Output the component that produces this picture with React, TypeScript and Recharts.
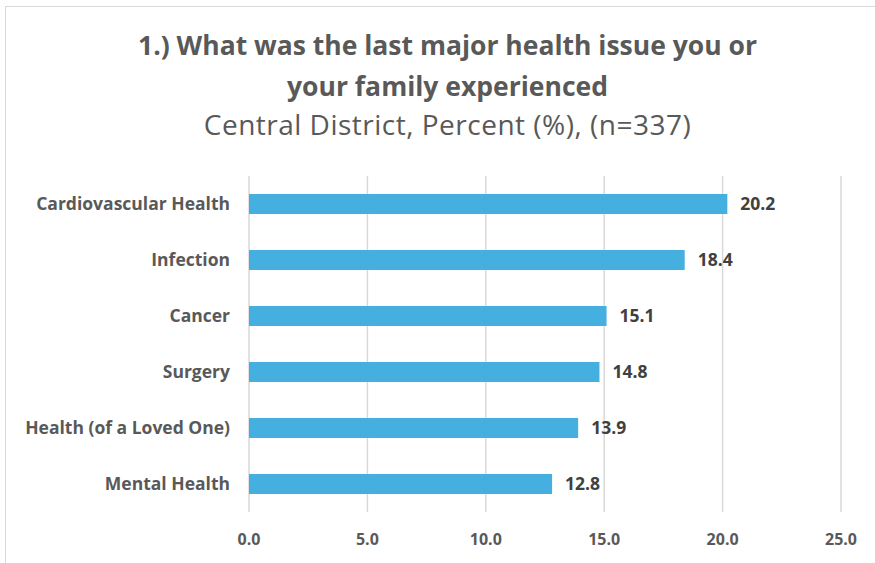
import React from 'react';
import { BarChart, Bar, XAxis, YAxis, CartesianGrid, LabelList, Cell } from 'recharts';

const categories = [
  'Cardiovascular Health',
  'Infection',
  'Cancer',
  'Surgery',
  'Health (of a Loved One)',
  'Mental Health',
];
const percents = [20.2, 18.4, 15.1, 14.8, 13.9, 12.8];
const xTicks = [0, 5, 10, 15, 20, 25];

const data = categories.map((name, i) => ({ name, value: percents[i] }));

const FONT = "'Open Sans', Lato, sans-serif";
const BAR_COLOR = '#45AFE0';

const titleLine: React.CSSProperties = {
  position: 'absolute',
  left: 0,
  width: 895,
  textAlign: 'center',
  color: '#595959',
  fontWeight: 700,
  fontSize: 26.5,
  lineHeight: '38px',
  whiteSpace: 'nowrap',
};

export default function App() {
  return (
    <div style={{ position: 'absolute', left: 0, top: 0, width: 875, height: 563, background: '#fff', overflow: 'hidden', fontFamily: FONT }}>
      {/* chart frame */}
      <div style={{ position: 'absolute', left: 5, top: 6, width: 900, height: 600, border: '1px solid #d9d9d9' }} />
      <div style={{ ...titleLine, top: 26 }}>1.) What was the last major health issue you or</div>
      <div style={{ ...titleLine, top: 67 }}>your family experienced</div>
      <div style={{ position: 'absolute', left: 0, width: 895, top: 108, textAlign: 'center', color: '#595959', fontSize: 28, lineHeight: '32px', letterSpacing: 0.5, whiteSpace: 'nowrap' }}>
        Central District, Percent (%), (n=337)
      </div>
      <div style={{ position: 'absolute', left: 0, top: 0 }}>
        <BarChart
          width={875}
          height={563}
          data={data}
          layout="vertical"
          margin={{ top: 176, right: 34, bottom: 0, left: 0 }}
        >
          <CartesianGrid horizontal={false} stroke="#d9d9d9" strokeWidth={1.5} />
          <XAxis
            type="number"
            domain={[0, 25]}
            ticks={xTicks}
            height={51}
            axisLine={false}
            tickLine={false}
            tickSize={0}
            tickMargin={22}
            tickFormatter={(v: number) => v.toFixed(1)}
            tick={{ fill: '#595959', fontSize: 16, fontWeight: 700, fontFamily: FONT }}
          />
          <YAxis
            type="category"
            dataKey="name"
            width={249}
            axisLine={false}
            tickLine={false}
            tickSize={0}
            tickMargin={19}
            tick={{ fill: '#595959', fontSize: 17.5, fontWeight: 700, fontFamily: FONT }}
          />
          <Bar dataKey="value" barSize={20} fill={BAR_COLOR} isAnimationActive={false}>
            {data.map((d, i) => (
              <Cell key={`c-${i}`} fill={BAR_COLOR} />
            ))}
            <LabelList
              dataKey="value"
              position="right"
              offset={13}
              formatter={(v: number) => v.toFixed(1)}
              style={{ fill: '#404040', fontSize: 17.5, fontWeight: 700, fontFamily: FONT }}
            />
          </Bar>
        </BarChart>
      </div>
    </div>
  );
}
